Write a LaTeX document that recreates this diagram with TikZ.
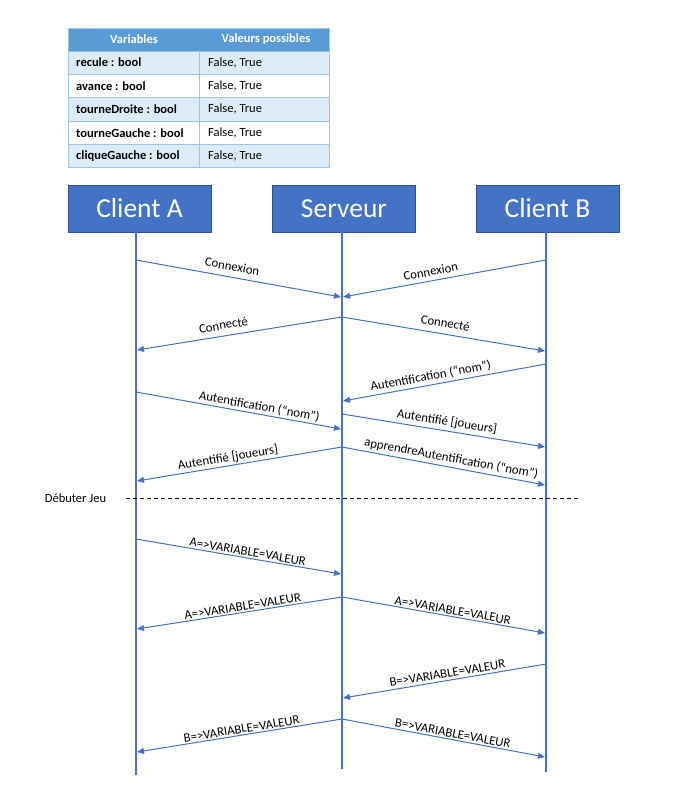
\documentclass[tikz,border=0pt]{standalone}
\usepackage{fontspec}
\setmainfont{Carlito}
\usetikzlibrary{arrows.meta}
\definecolor{lineblue}{HTML}{4472C4}
\definecolor{boxborder}{HTML}{2F528F}
\definecolor{hdr}{HTML}{5B9BD5}
\definecolor{rowfill}{HTML}{DDEBF7}
\definecolor{tblline}{HTML}{9DC3E6}
\begin{document}
\begin{tikzpicture}[x=1pt,y=-1pt,
  actor/.style={draw=boxborder, fill=lineblue, line width=0.8pt, minimum width=143pt, minimum height=47pt, text=white, font=\fontsize{27.5}{30}\selectfont, inner sep=0pt},
  life/.style={draw=lineblue, line width=2pt},
  msg/.style={draw=lineblue, line width=1pt, -{Triangle[length=7pt,width=6pt]}},
  lbl/.style={sloped, above, inner sep=1.5pt, font=\fontsize{12.8}{14}\selectfont, text=black},
  hcell/.style={text=white, font=\fontsize{12.5}{14}\selectfont\bfseries, inner sep=0pt},
  vcell/.style={anchor=west, text=black, font=\fontsize{12.5}{14}\selectfont\bfseries, inner sep=0pt},
  pcell/.style={anchor=west, text=black, font=\fontsize{12.5}{14}\selectfont, inner sep=0pt},
  sep/.style={draw=black, line width=0.8pt, dash pattern=on 4pt off 3pt}
]
\useasboundingbox (0,0) rectangle (688,800);
\fill[white] (0,0) rectangle (688,800);

% ---- table ----
\fill[hdr] (68,28) rectangle (329,51);
\fill[rowfill] (68,51) rectangle (329,74);
\fill[rowfill] (68,97.5) rectangle (329,121);
\fill[rowfill] (68,144.5) rectangle (329,167);
\draw[tblline, line width=0.8pt] (68,51) -- (329,51) (68,74) -- (329,74) (68,97.5) -- (329,97.5)
  (68,121) -- (329,121) (68,144.5) -- (329,144.5) (199,51) -- (199,167);
\draw[tblline, line width=0.8pt] (68,28) rectangle (329,167);
\node[hcell] (h1) at (134,39.5) {Variables};
\node[hcell] (h2) at (266,39.5) {Valeurs possibles};
\node[vcell] (v1) at (76,62.5) {recule : bool};
\node[vcell] (v2) at (76,85.75) {avance : bool};
\node[vcell] (v3) at (76,109.25) {tourneDroite : bool};
\node[vcell] (v4) at (76,132.75) {tourneGauche : bool};
\node[vcell] (v5) at (76,155.75) {cliqueGauche : bool};
\node[pcell] (p1) at (208,62.5) {False, True};
\node[pcell] (p2) at (208,85.75) {False, True};
\node[pcell] (p3) at (208,109.25) {False, True};
\node[pcell] (p4) at (208,132.75) {False, True};
\node[pcell] (p5) at (208,155.75) {False, True};

% ---- actors ----
\node[actor] (cA) at (139.5,208.5) {Client A};
\node[actor] (sv) at (344,208.5) {Serveur};
\node[actor] (cB) at (547.5,208.5) {Client B};
\coordinate (Aend) at (136,775);
\coordinate (Send) at (342,769);
\coordinate (Bend) at (546,772);
\draw[life] (cA.south -| Aend) -- (Aend);
\draw[life] (sv.south -| Send) -- (Send);
\draw[life] (cB.south -| Bend) -- (Bend);

% ---- messages ----
\coordinate (m1a) at (136,260); \coordinate (m1b) at (341,297);
\draw[msg] (m1a) -- node[lbl,pos=.46,inner sep=6pt] {Connexion} (m1b);
\coordinate (m2a) at (546,260); \coordinate (m2b) at (343,297);
\draw[msg] (m2a) -- node[lbl,pos=.56,inner sep=4.5pt] {Connexion} (m2b);
\coordinate (m3a) at (342,317); \coordinate (m3b) at (137,350);
\draw[msg] (m3a) -- node[lbl,pos=.57,inner sep=6pt] {Connecté} (m3b);
\coordinate (m4a) at (342,317); \coordinate (m4b) at (545,351);
\draw[msg] (m4a) -- node[lbl,pos=.5,inner sep=6pt] {Connecté} (m4b);
\coordinate (m5a) at (546,364); \coordinate (m5b) at (343,401);
\draw[msg] (m5a) -- node[lbl,pos=.56,inner sep=2.5pt] {Autentification (“nom”)} (m5b);
\coordinate (m6a) at (136,392); \coordinate (m6b) at (341,429);
\draw[msg] (m6a) -- node[lbl,pos=.595] {Autentification (“nom”)} (m6b);
\coordinate (m7a) at (342,414); \coordinate (m7b) at (545,447);
\draw[msg] (m7a) -- node[lbl,pos=.51,inner sep=3pt] {Autentifié [joueurs]} (m7b);
\coordinate (m8a) at (342,447); \coordinate (m8b) at (137,481);
\draw[msg] (m8a) -- node[lbl,pos=.55] {Autentifié [joueurs]} (m8b);
\coordinate (m9a) at (342,447); \coordinate (m9b) at (545,485);
\draw[msg] (m9a) -- node[lbl,pos=.53,inner sep=2.5pt] {apprendreAutentification (“nom”)} (m9b);

% ---- separator ----
\node[font=\fontsize{12.5}{14}\selectfont, inner sep=0pt] (deb) at (75.5,498) {Débuter Jeu};
\coordinate (d1) at (126,498); \coordinate (d2) at (580,498);
\draw[sep] (d1) -- (d2);

% ---- game messages ----
\coordinate (m10a) at (136,539); \coordinate (m10b) at (341,574);
\draw[msg] (m10a) -- node[lbl,pos=.54] {A=>VARIABLE=VALEUR} (m10b);
\coordinate (m11a) at (342,597); \coordinate (m11b) at (137,629);
\draw[msg] (m11a) -- node[lbl,pos=.48] {A=>VARIABLE=VALEUR} (m11b);
\coordinate (m12a) at (342,597); \coordinate (m12b) at (545,633);
\draw[msg] (m12a) -- node[lbl,pos=.54] {A=>VARIABLE=VALEUR} (m12b);
\coordinate (m13a) at (546,664); \coordinate (m13b) at (343,698);
\draw[msg] (m13a) -- node[lbl,pos=.48,inner sep=2.5pt] {B=>VARIABLE=VALEUR} (m13b);
\coordinate (m14a) at (342,719); \coordinate (m14b) at (137,752);
\draw[msg] (m14a) -- node[lbl,pos=.485] {B=>VARIABLE=VALEUR} (m14b);
\coordinate (m15a) at (342,719); \coordinate (m15b) at (545,757);
\draw[msg] (m15a) -- node[lbl,pos=.54] {B=>VARIABLE=VALEUR} (m15b);
\end{tikzpicture}
\end{document}
